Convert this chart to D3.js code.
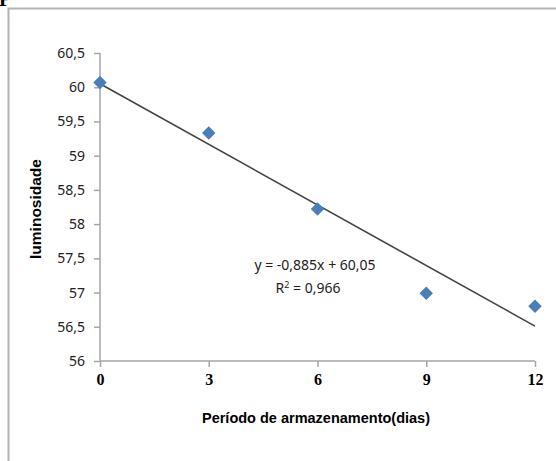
<!DOCTYPE html>
<html>
<head>
<meta charset="utf-8">
<script src="https://cdn.jsdelivr.net/npm/d3@7"></script>
<style>
  body { margin: 0; background: #fff; }
  svg { display: block; }
</style>
</head>
<body>
<div id="chart"></div>
<script>
// storage days and measured luminosity
const days = [0, 3, 6, 9, 12];
const luminosidade = [60.07, 59.33, 58.22, 56.99, 56.80];
const yTicks = [56, 56.5, 57, 57.5, 58, 58.5, 59, 59.5, 60, 60.5];
const xTicks = [0, 3, 6, 9, 12];
// Excel trendline, x counted in 3-day steps
const trendSlope = -0.885;
const trendIntercept = 60.05;
const eqLabel = "y = -0,885x + 60,05";

const width = 556, height = 461;
const margin = {top: 53, right: 21, bottom: 100, left: 100};

let svg = d3.select("#chart").append("svg")
    .attr("width", width)
    .attr("height", height);

// frame of the pasted picture
svg.append("path")
    .attr("d", "M8.5,461V8.5H556")
    .attr("fill", "none")
    .attr("stroke", "#b4b4b4")
    .attr("stroke-width", 2);

svg.append("text")
    .attr("x", -1)
    .attr("y", 6)
    .style("font-family", "Liberation Serif")
    .style("font-weight", "bold")
    .style("font-size", "20px")
    .text("P");

let x = d3.scaleLinear().domain([0, 12]).range([margin.left, width - margin.right]);
let y = d3.scaleLinear().domain([56, 60.5]).range([height - margin.bottom, margin.top]);

let fmt = d => String(d).replace(".", ",");

// y axis
let yAxis = svg.append("g")
    .attr("transform", "translate(" + margin.left + ",0)")
    .call(d3.axisLeft(y).tickValues(yTicks).tickFormat(fmt).tickSize(6).tickPadding(9));
yAxis.selectAll("line, path").attr("stroke", "#a6a6a6").attr("stroke-width", 1.5);
yAxis.select(".domain").attr("d", "M0," + y(56) + "V" + y(60.5));
yAxis.selectAll("text")
    .style("font-family", "Noto Sans")
    .style("font-size", "14px")
    .attr("fill", "#222");

// x axis
let xAxis = svg.append("g")
    .attr("transform", "translate(0," + y(56) + ")")
    .call(d3.axisBottom(x).tickValues(xTicks).tickSize(6).tickPadding(7));
xAxis.selectAll("line, path").attr("stroke", "#a6a6a6").attr("stroke-width", 1.5);
xAxis.select(".domain").attr("d", "M" + x(0) + ",0H" + x(12));
xAxis.selectAll("text")
    .style("font-family", "Liberation Serif")
    .style("font-weight", "bold")
    .style("font-size", "16px")
    .attr("fill", "#000");

// trendline
svg.append("line")
    .attr("x1", x(0))
    .attr("y1", y(trendIntercept))
    .attr("x2", x(12))
    .attr("y2", y(trendIntercept + trendSlope * 12 / 3))
    .attr("stroke", "#444")
    .attr("stroke-width", 1.6);

// points
svg.selectAll(".pt")
    .data(days)
    .enter().append("path")
    .attr("class", "pt")
    .attr("d", d3.symbol().type(d3.symbolDiamond2).size(115))
    .attr("transform", (d, i) => "translate(" + x(d) + "," + y(luminosidade[i]) + ")")
    .attr("fill", "#4a7ebb");

// equation
let eq = svg.append("text")
    .attr("text-anchor", "middle")
    .style("font-family", "Noto Sans")
    .style("font-size", "14px")
    .attr("fill", "#222");
eq.append("tspan").attr("x", 315).attr("y", 270).text(eqLabel);
let r2 = eq.append("tspan").attr("x", 308).attr("y", 293);
r2.append("tspan").text("R");
r2.append("tspan").attr("dy", -5).style("font-size", "9px").text("2");
r2.append("tspan").attr("dy", 5).text(" = 0,966");

// axis titles
svg.append("text")
    .attr("x", 316)
    .attr("y", 423)
    .attr("text-anchor", "middle")
    .style("font-family", "Liberation Sans")
    .style("font-weight", "bold")
    .style("font-size", "14.5px")
    .text("Período de armazenamento(dias)");

svg.append("text")
    .attr("transform", "translate(41,209) rotate(-90)")
    .attr("text-anchor", "middle")
    .style("font-family", "Liberation Sans")
    .style("font-weight", "bold")
    .style("font-size", "15.5px")
    .text("luminosidade");
</script>
</body>
</html>
